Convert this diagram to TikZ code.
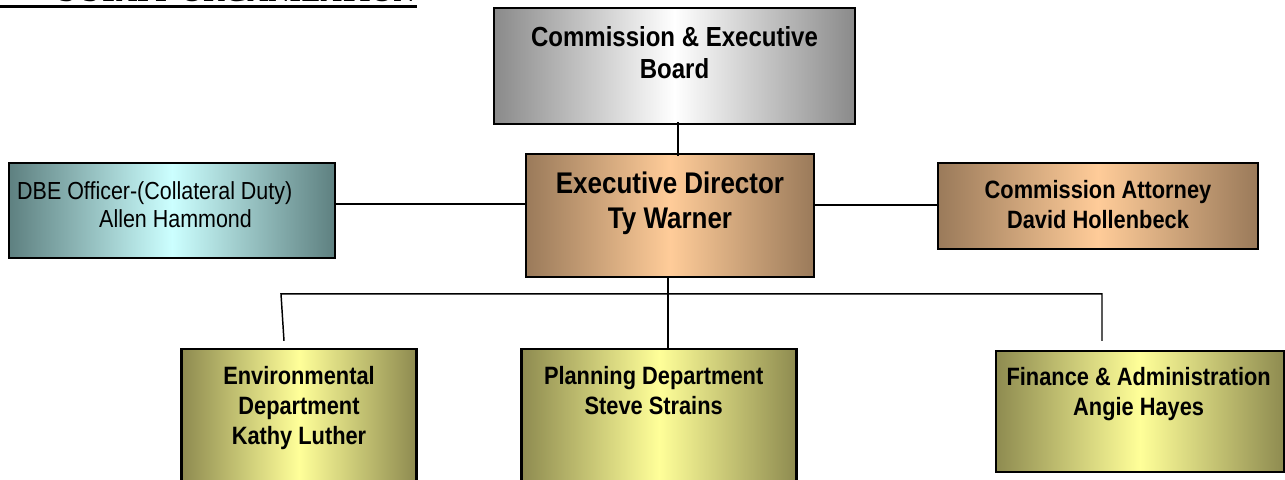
\documentclass[tikz,border=0pt]{standalone}
\usepackage{fontspec}
\setmainfont{Liberation Sans}[FakeStretch=0.87]
\newfontfamily\titlefont{Liberation Serif}
\usetikzlibrary{positioning}

\definecolor{boardgray}{HTML}{8A8A8A}
\definecolor{tanedge}{HTML}{9A7A5A}
\definecolor{peach}{HTML}{FFCC99}
\definecolor{tealedge}{HTML}{5E8080}
\definecolor{palecyan}{HTML}{CCFFFF}
\definecolor{oliveedge}{HTML}{8E8B50}
\definecolor{paleyellow}{HTML}{FFFF99}

\tikzset{
  box/.style={draw, line width=1.6pt, inner sep=0pt},
  graybox/.style={box, left color=boardgray, right color=boardgray, middle color=white},
  tanbox/.style={box, left color=tanedge, right color=tanedge, middle color=peach},
  tealbox/.style={box, left color=tealedge, right color=tealedge, middle color=palecyan},
  deptbox/.style={box, left color=oliveedge, right color=oliveedge, middle color=paleyellow},
  txt/.style={inner sep=0pt, align=center, font=\bfseries\fontsize{18.8}{22.5}\selectfont},
  bigtxt/.style={txt, font=\bfseries\fontsize{20.7}{24}\selectfont},
  toptxt/.style={txt, font=\bfseries\fontsize{22.4}{26}\selectfont},
  thintxt/.style={inner sep=0pt, align=left, font=\fontsize{18.5}{21}\selectfont},
  ttl/.style={inner sep=0pt, font=\titlefont\bfseries\fontsize{22}{26}\selectfont},
  link/.style={line width=1.1pt}
}

\begin{document}
\begin{tikzpicture}[x=0.75pt, y=-0.75pt]
\useasboundingbox (0,0) rectangle (1285,479);
\clip (0,0) rectangle (1285,479);

% title, cut off at the top
\node[ttl, anchor=base east] (title) at (415,1) {S STAFF ORGANIZATION};
\draw[line width=2.8pt] (0,6.5) -- (417,6.5);

% boxes
\node[graybox, minimum width=270.75pt, minimum height=87pt] (board) at (674.5,66) {};
\node[tanbox, minimum width=216pt, minimum height=92.25pt] (exec) at (670,215.5) {};
\node[tealbox, minimum width=244.5pt, minimum height=71.25pt] (dbe) at (172,210.5) {};
\node[tanbox, minimum width=240pt, minimum height=64.5pt] (atty) at (1098,206) {};
\node[deptbox, minimum width=176.25pt, minimum height=114pt] (env) at (299,425) {};
\node[deptbox, minimum width=206.25pt, minimum height=114pt] (plan) at (659,425) {};
\node[deptbox, minimum width=216pt, minimum height=90.75pt] (fin) at (1140,411.5) {};

% texts
\node[bigtxt, below=14.25pt of board.north] (boardtxt) {Commission \& Executive\\Board};
\node[toptxt, below=14.25pt of exec.north] (exectxt) {Executive Director\\Ty Warner};
\node[thintxt, anchor=north west] (dbetxt) at ([shift={(9,19)}]dbe.north west)
  {DBE Officer-(Collateral Duty)\\\hspace*{61.5pt}Allen Hammond};
\node[txt, below=13.5pt of atty.north] (attytxt) {Commission Attorney\\David Hollenbeck};
\node[txt, below=13.5pt of env.north] (envtxt) {Environmental\\Department\\Kathy Luther};
\node[txt, below=13.5pt of plan.north, xshift=-4pt] (plantxt) {Planning Department\\Steve Strains};
\node[txt, below=12.75pt of fin.north, xshift=-1pt] (fintxt) {Finance \& Administration\\Angie Hayes};

% connectors
\draw[link] ([shift={(3.5,-3)}]board.south) -- ([shift={(8,3)}]exec.north);
\draw[link] ([shift={(0,-6.5)}]dbe.east) -- ([shift={(0,-11.5)}]exec.west);
\draw[link] ([shift={(0,-10.5)}]exec.east) -- ([shift={(0,-1)}]atty.west);
\draw[link] ([shift={(-2,0)}]exec.south) -- ([shift={(9,0)}]plan.north);
\coordinate (envtop) at ([shift={(-15,-7)}]env.north);
\coordinate (fintop) at ([shift={(-38,-9)}]fin.north);
\draw[link] (envtop) -- ++(-3,-47) -| (fintop);
\end{tikzpicture}
\end{document}
